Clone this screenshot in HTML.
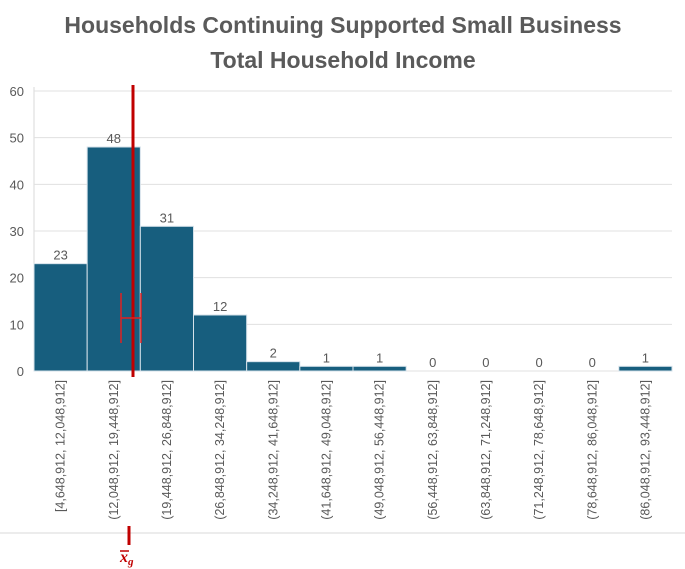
<!DOCTYPE html>
<html><head><meta charset="utf-8"><style>
body{margin:0;background:#fff;}
svg{display:block;font-family:"Liberation Sans",sans-serif;}
</style></head><body>
<svg width="685" height="569" id="c">
<text x="343" y="33" text-anchor="middle" font-size="23" font-weight="bold" fill="#5a5a5a">Households Continuing Supported Small Business</text>
<text x="343" y="68" text-anchor="middle" font-size="23" font-weight="bold" fill="#5a5a5a">Total Household Income</text>
<line x1="0" y1="533" x2="685" y2="533" stroke="#d9d9d9"/>
<g id="grid"></g><g id="bars"></g><g id="labels"></g>
<line x1="133" y1="85" x2="133" y2="377" stroke="#c00000" stroke-width="3"/>
<g stroke="#e02020" stroke-width="1.5">
<line x1="121" y1="318" x2="141" y2="318"/><line x1="121" y1="293" x2="121" y2="343"/><line x1="141" y1="293" x2="141" y2="343"/></g>
<line x1="129" y1="526" x2="129" y2="545" stroke="#c00000" stroke-width="3"/>
<text x="120" y="562" font-size="16" font-weight="bold" font-style="italic" fill="#c00000" font-family="Liberation Serif,serif">x<tspan font-size="11" dy="3">g</tspan></text>
<line x1="120" y1="551" x2="129" y2="551" stroke="#c00000" stroke-width="1.5"/>
</svg>
<script>
const categories=["[4,648,912, 12,048,912]","(12,048,912, 19,448,912]","(19,448,912, 26,848,912]","(26,848,912, 34,248,912]","(34,248,912, 41,648,912]","(41,648,912, 49,048,912]","(49,048,912, 56,448,912]","(56,448,912, 63,848,912]","(63,848,912, 71,248,912]","(71,248,912, 78,648,912]","(78,648,912, 86,048,912]","(86,048,912, 93,448,912]"];
const counts=[23,48,31,12,2,1,1,0,0,0,0,1];
const yTicks=[0,10,20,30,40,50,60];
const NS="http://www.w3.org/2000/svg";
const X0=34,X1=672,Y0=371,Y60=91;
const y=v=>Y0-(v/60)*(Y0-Y60);
const bw=(X1-X0)/categories.length;
const x=i=>X0+i*bw;
function mk(t,a,p){const e=document.createElementNS(NS,t);for(const k in a)e.setAttribute(k,a[k]);p.appendChild(e);return e;}
const g=document.getElementById('grid'),b=document.getElementById('bars'),l=document.getElementById('labels');
mk('line',{x1:X0,y1:Y60-4,x2:X0,y2:Y0,stroke:'#d9d9d9'},g);
yTicks.forEach(t=>{
 const ln=mk('line',{x1:X0,y1:y(t),x2:X1,y2:y(t),stroke:'#e0e0e0'},g);
 
 
 const tx=mk('text',{x:24,y:y(t)+5,'text-anchor':'end','font-size':13,fill:'#595959'},l);
 tx.textContent=t;
 
 
});
counts.forEach((v,i)=>{
 const r=mk('rect',{x:x(i),y:y(v),width:bw,height:Y0-y(v),fill:'#175e7e',stroke:'#d6e2ea','stroke-width':1},b);
 
 
 const t=mk('text',{x:x(i)+bw/2,y:y(v)-4,'text-anchor':'middle','font-size':13,fill:'#595959'},l);
 t.textContent=v;
 
 
 const cx=x(i)+bw/2+4;
 const c=mk('text',{x:cx,y:380,'text-anchor':'end','font-size':12.5,fill:'#595959',transform:`rotate(-90 ${cx} 380)`},l);
 c.textContent=categories[i];
 
 
});
</script>
</body></html>
